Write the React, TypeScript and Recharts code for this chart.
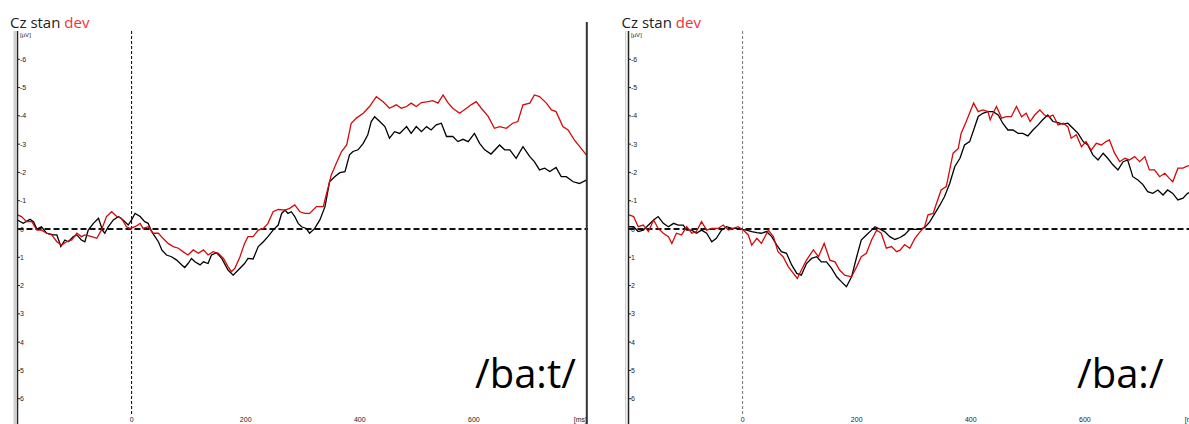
import { LineChart, Line, XAxis, YAxis, ReferenceLine } from 'recharts';

// time (ms) / amplitude (µV) pairs, negative drawn up
const stanBat: [number, number][] = [
    [-200, -0.32], [-190, -0.2], [-178, -0.34], [-172, -0.26], [-166, 0], [-158, -0.08], [-149, 0.15], [-137, 0.21],
    [-131, 0.21], [-124, 0.62], [-117, 0.39], [-111, 0.45], [-102, 0.27], [-96, 0.21], [-88, 0.39], [-82, 0.45],
    [-76, 0.04], [-67, -0.2], [-58, -0.38], [-51, 0.04], [-47, 0.15], [-41, -0.08], [-32, -0.32], [-23, -0.44],
    [-15, -0.32], [-6, -0.14], [0, -0.32], [6, -0.55], [15, -0.44], [23, -0.26], [29, -0.2], [35, 0.09],
    [41, 0.27], [47, 0.45], [53, 0.74], [61, 0.92], [70, 0.98], [79, 1.1], [88, 1.27], [93, 1.36],
    [99, 1.22], [105, 1.04], [111, 1.16], [120, 1.27], [126, 1.16], [134, 1.22], [140, 0.92], [149, 0.84],
    [158, 1.04], [169, 1.45], [178, 1.63], [187, 1.45], [198, 1.22], [204, 1.04], [213, 1.06], [222, 0.62],
    [231, 0.45], [239, 0.27], [248, 0.04], [257, -0.14], [263, -0.55], [269, -0.67], [274, -0.55], [280, -0.61],
    [286, -0.44], [292, -0.2], [298, -0.08], [306, -0.02], [312, 0.15], [321, -0.02], [330, -0.32], [339, -0.79],
    [347, -1.67], [356, -1.85], [365, -1.99], [374, -2.03], [382, -2.62], [388, -2.74], [397, -2.8], [406, -3.03],
    [414, -3.33], [420, -3.8], [426, -3.97], [435, -3.8], [444, -3.62], [452, -3.21], [461, -3.44], [470, -3.38],
    [482, -3.62], [490, -3.38], [499, -3.62], [508, -3.44], [517, -3.62], [525, -3.5], [534, -3.68], [543, -3.74],
    [552, -3.27], [563, -3.27], [572, -3.09], [581, -3.17], [590, -3.09], [601, -3.38], [610, -3.03], [619, -2.8],
    [630, -2.65], [645, -2.97], [654, -2.8], [663, -2.8], [674, -2.5], [686, -2.91], [698, -2.56], [706, -2.38],
    [715, -2.09], [724, -2.15], [733, -2.03], [744, -2.18], [753, -1.85], [762, -1.85], [774, -1.67], [785, -1.61],
    [797, -1.73],
];

const devBat: [number, number][] = [
    [-200, -0.5], [-193, -0.44], [-184, -0.26], [-175, -0.26], [-166, 0.04], [-158, 0.04], [-149, 0.15], [-140, 0.21],
    [-131, 0.45], [-123, 0.57], [-114, 0.45], [-105, 0.39], [-96, 0.15], [-88, 0.27], [-82, 0.21], [-70, 0.27],
    [-61, 0.33], [-53, 0.04], [-44, -0.44], [-35, -0.61], [-26, -0.44], [-18, -0.38], [-9, -0.08], [-3, -0.02],
    [6, -0.08], [15, -0.2], [20, -0.02], [29, -0.08], [38, 0.15], [47, 0.15], [55, 0.33], [64, 0.51],
    [73, 0.62], [82, 0.68], [90, 0.8], [99, 0.92], [108, 0.74], [117, 0.86], [126, 0.74], [134, 0.92],
    [143, 0.8], [152, 0.86], [161, 1.04], [169, 1.33], [175, 1.51], [181, 1.39], [190, 0.98], [198, 0.51],
    [204, 0.27], [213, 0.27], [222, 0.04], [231, -0.02], [239, -0.2], [248, -0.61], [257, -0.69], [269, -0.67],
    [277, -0.73], [286, -0.85], [295, -0.61], [304, -0.55], [312, -0.55], [324, -0.79], [336, -0.79], [341, -1.2],
    [350, -1.91], [359, -2.33], [368, -2.74], [377, -2.97], [385, -3.74], [394, -3.92], [406, -4.09], [417, -4.33],
    [429, -4.68], [441, -4.5], [452, -4.27], [464, -4.39], [473, -4.27], [482, -4.33], [490, -4.45], [499, -4.33],
    [508, -4.47], [520, -4.5], [528, -4.54], [537, -4.45], [546, -4.74], [555, -4.45], [563, -4.27], [575, -4.09],
    [587, -4.27], [595, -4.39], [604, -4.5], [613, -4.27], [625, -3.98], [636, -3.56], [645, -3.62], [657, -3.56],
    [668, -3.74], [677, -3.8], [686, -4.39], [698, -4.45], [706, -4.74], [715, -4.68], [727, -4.45], [736, -4.21],
    [744, -4.15], [756, -3.62], [765, -3.5], [776, -3.15], [788, -2.85], [797, -2.62],
];

const stanBa: [number, number][] = [
    [-199, -0.08], [-191, -0.08], [-183, 0.09], [-174, 0.04], [-165, -0.14], [-156, -0.32], [-148, -0.44], [-139, -0.2],
    [-130, -0.08], [-121, -0.2], [-113, -0.14], [-104, -0.14], [-98, 0.04], [-89, 0.04], [-81, 0.15], [-72, 0.04],
    [-63, 0.15], [-54, 0.45], [-46, 0.33], [-37, 0.04], [-28, -0.08], [-19, -0.02], [-11, -0.02], [-2, 0.01],
    [7, 0.04], [16, 0.09], [25, 0.13], [33, 0.15], [42, 0.09], [51, 0.27], [60, 0.57], [68, 0.8],
    [77, 0.86], [86, 1.27], [95, 1.57], [103, 1.63], [112, 1.22], [121, 1.04], [130, 0.98], [138, 1.16],
    [147, 1.16], [156, 1.39], [165, 1.69], [173, 1.86], [182, 2.04], [191, 1.69], [200, 0.98], [208, 0.39],
    [217, 0.21], [226, 0.04], [232, -0.08], [241, 0.01], [249, 0.09], [258, 0.27], [267, 0.37], [276, 0.3],
    [284, 0.2], [293, 0.01], [302, 0.01], [311, 0.01], [319, -0.05], [328, -0.25], [337, -0.55], [346, -0.85],
    [354, -1.15], [363, -1.61], [372, -2.21], [381, -2.5], [389, -2.97], [398, -3.09], [405, -3.5], [413, -3.98],
    [421, -4.09], [430, -4.15], [439, -4.15], [448, -4.03], [456, -3.74], [465, -3.5], [474, -3.5], [483, -3.38],
    [491, -3.38], [500, -3.29], [509, -3.5], [518, -3.68], [526, -3.86], [535, -4.03], [544, -3.8], [553, -3.76],
    [561, -3.71], [570, -3.74], [579, -3.56], [588, -3.38], [597, -3.09], [605, -2.97], [614, -2.62], [623, -2.44],
    [632, -2.68], [640, -2.5], [649, -2.27], [658, -2.09], [667, -2.38], [675, -2.44], [684, -1.85], [693, -1.73],
    [702, -1.56], [710, -1.32], [719, -1.26], [728, -1.38], [737, -1.2], [745, -1.38], [754, -1.26], [763, -1.03],
    [772, -1.09], [780, -1.26], [790, -1.35],
];

const devBa: [number, number][] = [
    [-199, -0.5], [-191, -0.44], [-183, -0.08], [-174, -0.14], [-165, 0.09], [-156, -0.32], [-148, -0.02], [-139, 0.15],
    [-130, 0.27], [-124, 0.51], [-116, 0.15], [-107, 0.21], [-98, -0.08], [-89, 0.15], [-81, 0.09], [-72, -0.26],
    [-63, 0.04], [-54, -0.02], [-43, -0.02], [-34, -0.14], [-25, 0.04], [-16, -0.02], [-8, -0.08], [1, 0.04],
    [10, 0.21], [16, 0.57], [25, 0.33], [33, 0.51], [45, 0.04], [54, 0.27], [62, 0.8], [71, 0.98],
    [80, 1.33], [89, 1.57], [96, 1.75], [103, 1.45], [112, 1.1], [124, 0.74], [133, 0.98], [143, 0.51],
    [153, 1.1], [162, 1.16], [170, 1.45], [179, 1.63], [191, 1.69], [200, 1.33], [208, 0.98], [217, 0.86],
    [226, 0.39], [235, 0.04], [243, 0.15], [252, 0.68], [261, 0.62], [270, 0.8], [276, 0.75], [284, 0.55],
    [293, 0.68], [302, 0.33], [311, 0.1], [319, -0.08], [325, -0.5], [334, -0.55], [340, -0.91], [348, -1.38],
    [357, -1.5], [363, -2.09], [369, -2.68], [378, -2.85], [383, -3.38], [392, -3.8], [399, -4.15], [405, -4.45],
    [413, -4.15], [421, -4.21], [430, -4.15], [434, -3.86], [439, -4.09], [445, -4.33], [454, -3.92], [462, -3.97],
    [471, -3.97], [480, -4.33], [489, -3.97], [497, -4.09], [504, -3.8], [512, -4.03], [521, -4.21], [529, -4.03],
    [538, -3.97], [544, -4.03], [553, -3.68], [562, -3.74], [570, -3.62], [576, -3.21], [585, -3.33], [594, -2.91],
    [602, -3.09], [611, -2.79], [620, -3.03], [629, -2.97], [637, -3.09], [643, -3.15], [652, -2.68], [661, -2.38],
    [670, -2.5], [678, -2.44], [687, -2.56], [696, -2.38], [705, -2.56], [713, -2.09], [722, -2.09], [731, -1.85],
    [740, -1.97], [748, -1.79], [754, -1.67], [763, -2.15], [772, -2.15], [780, -2.23], [790, -2.25],
];

const yTicks = [-7, -6, -5, -4, -3, -2, -1, 0, 1, 2, 3, 4, 5, 6];
const xTicks = [0, 200, 400, 600, 800];
const panelLabels = ['/ba:t/', '/ba:/'];

const STAN = '#000000';
const DEV = '#d40a0a';
const AXIS_X = 17.5; // plot left edge inside each chart
const TICK_Y = 422;

const rows = (pts: [number, number][]) => pts.map(([t, v]) => ({ t, v }));

const YTick = ({ y, payload }: any) => {
    if (payload.value === -7) {
        return (
            <text x={AXIS_X + 2.5} y={y + 6} fontSize={6} fill="#222" fontFamily="Liberation Sans">
                [µV]
            </text>
        );
    }
    return (
        <g>
            <line x1={AXIS_X} x2={AXIS_X + 2.5} y1={y} y2={y} stroke="#222" strokeWidth={1} />
            <text x={AXIS_X + 2.5} y={y + 2.5} fontSize={7} fill="#222" fontFamily="Liberation Sans">
                {payload.value}
            </text>
        </g>
    );
};

const XTick = ({ x, payload }: any) => {
    const last = payload.value === 800;
    return (
        <text
            x={last ? x - 1 : x}
            y={TICK_Y}
            fontSize={7}
            fill="#222"
            textAnchor={last ? 'end' : 'middle'}
            fontFamily="Liberation Sans"
        >
            {last ? '[ms]' : payload.value}
        </text>
    );
};

function Panel({ left, stan, dev, onsetColor }: { left: number; stan: [number, number][]; dev: [number, number][]; onsetColor: string }) {
    return (
        <div style={{ position: 'absolute', left, top: 0 }}>
            {/* axes need a non-zero size or recharts skips them */}
            <LineChart width={600} height={430} margin={{ top: 31, right: 12, bottom: 2, left: AXIS_X - 1 }}>
                <XAxis
                    type="number"
                    dataKey="t"
                    domain={[-200, 800]}
                    ticks={xTicks}
                    allowDataOverflow
                    axisLine={false}
                    tickLine={false}
                    height={1}
                    tick={<XTick />}
                />
                <YAxis
                    type="number"
                    domain={[-7, 7]}
                    reversed
                    ticks={yTicks}
                    interval={0}
                    width={1}
                    tickLine={false}
                    axisLine={{ stroke: '#222', strokeWidth: 1.5 }}
                    tick={<YTick />}
                />
                <ReferenceLine
                    segment={[{ x: 0, y: -7 }, { x: 0, y: 6.6 }]}
                    stroke={onsetColor}
                    strokeWidth={1}
                    strokeDasharray="3 2"
                />
                <ReferenceLine y={0} stroke="#111" strokeWidth={2} strokeDasharray="6 3" />
                <Line data={rows(stan)} dataKey="v" type="linear" stroke={STAN} strokeWidth={1.3} dot={false} isAnimationActive={false} />
                <Line data={rows(dev)} dataKey="v" type="linear" stroke={DEV} strokeWidth={1.3} dot={false} isAnimationActive={false} />
            </LineChart>
        </div>
    );
}

export default function App() {
    return (
        <div style={{ position: 'fixed', left: 0, top: 0, width: 1189, height: 424, overflow: 'hidden', background: '#fff' }}>
            <Panel left={0} stan={stanBat} dev={devBat} onsetColor="#000" />
            <Panel left={611} stan={stanBa} dev={devBa} onsetColor="#777" />
            <svg width={1189} height={424} style={{ position: 'absolute', left: 0, top: 0, pointerEvents: 'none' }}>
                <rect x={13.5} y={31} width={3} height={400} fill="#cfcfcf" />
                <rect x={585.8} y={22} width={2} height={410} fill="#333" />
                <rect x={625.2} y={31} width={1} height={400} fill="#c4c4c4" />
                {[10, 621.5].map((x) => (
                    <text key={x} x={x} y={28} fontSize={15} fontFamily="Open Sans" fill="#222">
                        Cz stan <tspan fill="#f0323c">dev</tspan>
                    </text>
                ))}
                <text x={475} y={388} fontSize={40} fontFamily="Open Sans" fill="#000">
                    {panelLabels[0]}
                </text>
                <text x={1077} y={388} fontSize={40} fontFamily="Open Sans" fill="#000">
                    {panelLabels[1]}
                </text>
            </svg>
        </div>
    );
}
